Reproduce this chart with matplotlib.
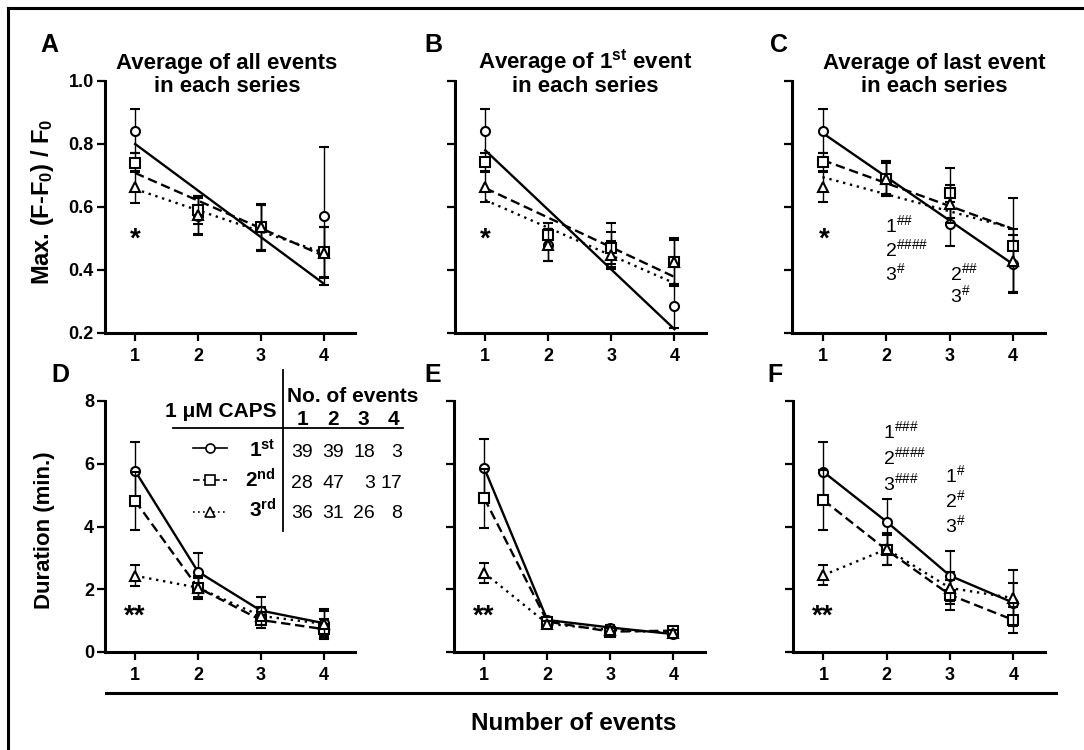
import numpy as np
import matplotlib.pyplot as plt
from matplotlib.lines import Line2D

plt.rcParams['font.family'] = ['Liberation Sans', 'DejaVu Sans']
plt.rcParams['mathtext.fontset'] = 'custom'
plt.rcParams['mathtext.rm'] = 'Liberation Sans'
plt.rcParams['mathtext.bf'] = 'Liberation Sans:bold'
plt.rcParams['mathtext.it'] = 'Liberation Sans:italic'
plt.rcParams['mathtext.default'] = 'regular'

# ---- data ----
events = [1, 2, 3, 4]
series = ['1st', '2nd', '3rd']

# Max. (F-F0)/F0, rows = 1st, 2nd, 3rd CAPS application
amp_all_mean = [[0.842, 0.570, 0.535, 0.571],
                [0.741, 0.590, 0.535, 0.457],
                [0.663, 0.575, 0.535, 0.455]]
amp_all_sem = [[0.07, 0.06, 0.07, 0.218],
               [0.03, 0.045, 0.07, 0.08],
               [0.05, 0.06, 0.075, 0.08]]
amp_all_fit = [[0.800, 0.357], [0.708, 0.445], [0.657, 0.455]]  # fit at x=1 and x=4

amp_first_mean = [[0.842, 0.480, 0.480, 0.286],
                  [0.742, 0.510, 0.470, 0.424],
                  [0.665, 0.480, 0.448, 0.424]]
amp_first_sem = [[0.07, 0.05, 0.07, 0.07],
                 [0.03, 0.04, 0.05, 0.076],
                 [0.05, 0.05, 0.045, 0.07]]
amp_first_fit = [[0.780, 0.212], [0.660, 0.378], [0.622, 0.358]]

amp_last_mean = [[0.842, 0.690, 0.545, 0.420],
                 [0.742, 0.690, 0.645, 0.477],
                 [0.665, 0.690, 0.610, 0.429]]
amp_last_sem = [[0.07, 0.055, 0.07, 0.09],
                [0.03, 0.055, 0.08, 0.15],
                [0.05, 0.05, 0.06, 0.10]]
amp_last_fit = [[0.835, 0.418], [0.749, 0.530], [0.695, 0.532]]

# Duration (min.)
dur_all_mean = [[5.77, 2.56, 1.32, 0.92],
                [4.82, 2.05, 1.02, 0.73],
                [2.43, 2.05, 1.15, 0.90]]
dur_all_sem = [[0.93, 0.59, 0.44, 0.45],
               [0.93, 0.36, 0.26, 0.32],
               [0.33, 0.30, 0.30, 0.40]]

dur_first_mean = [[5.86, 1.02, 0.78, 0.57],
                  [4.90, 0.97, 0.65, 0.68],
                  [2.52, 0.90, 0.70, 0.62]]
dur_first_sem = [[0.92, 0.10, 0.08, 0.08],
                 [0.94, 0.10, 0.08, 0.08],
                 [0.33, 0.08, 0.08, 0.08]]

dur_last_mean = [[5.74, 4.15, 2.43, 1.57],
                 [4.84, 3.25, 1.82, 1.02],
                 [2.45, 3.28, 2.04, 1.72]]
dur_last_sem = [[0.96, 0.73, 0.80, 0.63],
                [0.95, 0.48, 0.48, 0.42],
                [0.32, 0.50, 0.50, 0.89]]

# number of events per series (table in panel D)
n_events = [[39, 39, 18, 3],
            [28, 47, 3, 17],
            [36, 31, 26, 8]]

W, H = 1084, 750
fig = plt.figure(figsize=(W / 100, H / 100), dpi=100)


def px(x, y):
    return x / W, 1 - y / H


def make_ax(left, top, right, bottom):
    ax = fig.add_axes([left / W, 1 - bottom / H, (right - left) / W, (bottom - top) / H])
    for s in ['top', 'right']:
        ax.spines[s].set_visible(False)
    for s in ['left', 'bottom']:
        ax.spines[s].set_linewidth(2.2)
    ax.tick_params(length=6, width=1.6, labelsize=13, direction='out')
    ax.tick_params(axis='x', pad=5)
    ax.tick_params(axis='y', pad=2)
    ax.set_xlim(0.52, 4.5)
    ax.set_xticks(events)
    for lab in ax.get_xticklabels() + ax.get_yticklabels():
        lab.set_fontweight('bold')
    return ax


markers = ['o', 's', '^']
lstyles = ['-', (0, (4, 2)), (0, (1, 2))]


def draw(ax, means, sems, fit=None):
    for i in range(3):
        if fit is None:
            ax.plot(events, means[i], color='black', lw=1.7, ls=lstyles[i], zorder=2, clip_on=False)
        else:
            ax.plot([events[0], events[-1]], fit[i], color='black', lw=1.7, ls=lstyles[i],
                    zorder=2, clip_on=False)
        ax.errorbar(events, means[i], yerr=sems[i], fmt=markers[i], ms=6.5, mfc='white',
                    mec='black', mew=1.5, ecolor='black', elinewidth=1, capsize=3.5,
                    capthick=1, zorder=3 + i, clip_on=False)


boxes_top = [(105, 81, 355, 333), (455, 81, 706, 333), (792, 81, 1045, 333)]
boxes_bot = [(105, 401, 355, 652), (454, 401, 705, 652), (793, 401, 1045, 652)]

amp_means = [amp_all_mean, amp_first_mean, amp_last_mean]
amp_sems = [amp_all_sem, amp_first_sem, amp_last_sem]
amp_fits = [amp_all_fit, amp_first_fit, amp_last_fit]
dur_means = [dur_all_mean, dur_first_mean, dur_last_mean]
dur_sems = [dur_all_sem, dur_first_sem, dur_last_sem]

for k in range(3):
    ax = make_ax(*boxes_top[k])
    ax.set_ylim(0.2, 1.0)
    ax.set_yticks([0.2, 0.4, 0.6, 0.8, 1.0])
    ax.set_yticklabels(['0.2', '0.4', '0.6', '0.8', '1.0'], fontweight='bold')
    if k > 0:
        ax.tick_params(axis='y', labelleft=False)
    draw(ax, amp_means[k], amp_sems[k], amp_fits[k])

    ax = make_ax(*boxes_bot[k])
    ax.set_ylim(0, 8)
    ax.set_yticks([0, 2, 4, 6, 8])
    ax.set_yticklabels(['0', '2', '4', '6', '8'], fontweight='bold')
    if k > 0:
        ax.tick_params(axis='y', labelleft=False)
    draw(ax, dur_means[k], dur_sems[k])

# ---- titles, letters, labels ----
titles = [('Average of all events', 227), (r'Average of $\mathbf{1}^{\mathbf{st}}$ event', 585),
          ('Average of last event', 934)]
for t, xc in titles:
    fig.text(*px(xc, 69), t, ha='center', va='baseline', fontsize=16, fontweight='bold')
    fig.text(*px(xc, 92), 'in each series', ha='center', va='baseline', fontsize=16, fontweight='bold')

letters = [('A', 40, 52), ('B', 424, 52), ('C', 770, 52), ('D', 51, 382), ('E', 424, 382), ('F', 767, 382)]
for l, x, y in letters:
    fig.text(*px(x, y), l, ha='left', va='baseline', fontsize=18, fontweight='bold')

fig.text(*px(43, 202), r'Max. (F-F$_\mathbf{0}$) / F$_\mathbf{0}$', rotation=90, ha='center',
         va='center', fontsize=17, fontweight='bold')
fig.text(*px(45, 530), 'Duration (min.)', rotation=90, ha='center', va='center',
         fontsize=16, fontweight='bold')

# significance marks
for x in [135, 485, 824]:
    fig.text(*px(x, 247), '*', ha='center', va='baseline', fontsize=20, fontweight='bold')
for x in [135, 484, 823]:
    fig.text(*px(x, 624), '**', ha='center', va='baseline', fontsize=20, fontweight='bold')

hash_c = [(885, 232, r'1$^{\#\#}$'), (885, 256, r'2$^{\#\#\#\#}$'), (885, 280, r'3$^{\#}$'),
          (950, 280, r'2$^{\#\#}$'), (950, 302, r'3$^{\#}$')]
hash_f = [(883, 438, r'1$^{\#\#\#}$'), (883, 464, r'2$^{\#\#\#\#}$'), (883, 490, r'3$^{\#\#\#}$'),
          (945, 482, r'1$^{\#}$'), (945, 507, r'2$^{\#}$'), (945, 532, r'3$^{\#}$')]
for x, y, s in hash_c + hash_f:
    fig.text(*px(x, y), s, ha='left', va='baseline', fontsize=14)

# ---- table / legend inside D ----
fig.add_artist(Line2D([px(283, 0)[0]] * 2, [px(0, 370)[1], px(0, 531)[1]], color='black', lw=1.3))
fig.add_artist(Line2D([px(173, 0)[0], px(403, 0)[0]], [px(0, 428)[1]] * 2, color='black', lw=1.3))
fig.text(*px(277, 417), '1 μM CAPS', ha='right', va='baseline', fontsize=15, fontweight='bold')
fig.text(*px(353, 402), 'No. of events', ha='center', va='baseline', fontsize=15, fontweight='bold')
col_x = [303, 333, 363, 393]
for j in range(4):
    fig.text(*px(col_x[j], 425), str(events[j]), ha='center', va='baseline', fontsize=15,
             fontweight='bold')

row_y = [457, 488, 518]
line_y = [448, 480, 512]
leg_labels = [r'$\mathbf{1}^{\mathbf{st}}$', r'$\mathbf{2}^{\mathbf{nd}}$', r'$\mathbf{3}^{\mathbf{rd}}$']
num_right = [313, 344, 375, 402]
for i in range(3):
    fig.add_artist(Line2D([px(193, 0)[0], px(227, 0)[0]], [px(0, line_y[i])[1]] * 2,
                          color='black', lw=1.2, ls=lstyles[i]))
    fig.add_artist(Line2D([px(210, 0)[0]], [px(0, line_y[i])[1]], marker=markers[i], ms=6.5,
                          mfc='white', mec='black', mew=1.2, ls='none'))
    fig.text(*px(276, row_y[i]), leg_labels[i], ha='right', va='baseline', fontsize=15)
    for j in range(4):
        fig.text(*px(num_right[j], row_y[i]), str(n_events[i][j]), ha='right', va='baseline',
                 fontsize=14)

# ---- common x label ----
fig.add_artist(Line2D([px(106, 0)[0], px(1056, 0)[0]], [px(0, 693)[1]] * 2, color='black', lw=2.2))
fig.text(*px(574, 723), 'Number of events', ha='center', va='center', fontsize=17.5, fontweight='bold')

# outer frame
fig.add_artist(Line2D([px(8, 0)[0]] * 2, [0, px(0, 8)[1]], color='black', lw=2.2))
fig.add_artist(Line2D([px(8, 0)[0], 1], [px(0, 8)[1]] * 2, color='black', lw=2.2))

fig.savefig('out.png', dpi=100)
